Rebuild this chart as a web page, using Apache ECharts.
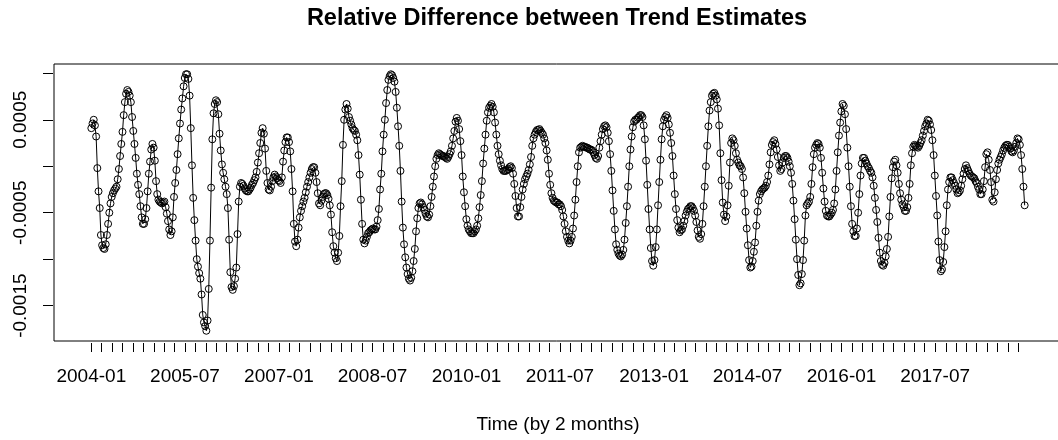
<!DOCTYPE html>
<html><head><meta charset="utf-8">
<script src="https://cdn.jsdelivr.net/npm/echarts@6/dist/echarts.min.js"></script>
<style>html,body{margin:0;padding:0;background:#fff}#c{width:1058px;height:440px}</style>
</head><body><div id="c"></div>
<script>
const chartTitle = 'Relative Difference between Trend Estimates';
const xTitle = 'Time (by 2 months)';
const firstWeek = [2004, 0, 1];      // first weekly observation (year, month index, day)
const valueUnit = 1e-5;               // the weekly arrays below are in units of 1e-5

// weekly relative differences, 52 weeks per block
const wk2004 = [41,46,50,44,32,-2,-27,-45,-74,-85,-88,-89,-84,-74,-62,-50,-40,-33,-29,-26,-24,-22,-14,-3,11,24,37,55,69,78,82,80,76,69,53,38,24,9,-8,-20,-30,-43,-55,-62,-62,-57,-45,-27,-8,5,18,24];
const wk2005 = [20,6,-16,-30,-36,-38,-39,-40,-39,-38,-44,-51,-59,-68,-74,-70,-55,-33,-18,-4,13,30,46,61,73,86,95,99,99,94,76,41,1,-34,-58,-80,-100,-108,-115,-121,-138,-160,-168,-172,-177,-166,-132,-80,-23,29,57,67];
const wk2006 = [71,69,56,35,17,2,-7,-14,-22,-30,-45,-79,-114,-130,-133,-129,-121,-109,-73,-38,-22,-18,-19,-21,-24,-26,-27,-27,-25,-23,-20,-18,-15,-12,-6,4,14,25,36,41,35,19,-5,-18,-25,-26,-22,-16,-12,-9,-11,-13];
const wk2007 = [-15,-16,-18,-12,5,17,26,31,31,26,16,-3,-27,-62,-81,-86,-79,-66,-55,-48,-43,-38,-34,-28,-22,-17,-12,-7,-3,-1,-1,-7,-17,-29,-40,-42,-37,-33,-30,-29,-29,-31,-35,-42,-52,-71,-86,-93,-99,-102,-93,-75];
const wk2008 = [-43,-16,23,50,61,67,62,53,49,45,41,39,38,34,28,12,-9,-36,-62,-79,-83,-80,-76,-72,-71,-69,-68,-67,-68,-68,-65,-58,-46,-25,-8,16,34,50,68,82,93,97,99,98,95,91,80,63,43,22,-5,-38];
const wk2009 = [-66,-84,-98,-109,-116,-121,-123,-120,-113,-102,-89,-70,-56,-45,-40,-39,-41,-44,-47,-51,-54,-55,-52,-43,-33,-22,-11,0,8,12,14,13,12,11,11,10,9,8,10,13,16,22,30,38,48,52,49,40,27,12,-11,-28];
const wk2010 = [-43,-57,-64,-68,-70,-72,-72,-72,-70,-68,-64,-56,-44,-31,-16,3,19,34,49,58,63,65,67,64,58,47,34,22,13,6,1,-3,-5,-5,-5,-4,-3,-1,0,-2,-8,-19,-32,-45,-54,-54,-44,-33,-25,-19,-14,-11];
const wk2011 = [-8,-4,2,10,22,30,34,37,39,39,40,38,36,34,30,25,17,7,-8,-20,-29,-34,-37,-38,-39,-39,-41,-41,-43,-47,-54,-62,-70,-76,-80,-83,-80,-76,-67,-53,-36,-17,0,15,20,21,22,21,21,20,20,19];
const wk2012 = [18,18,17,15,12,9,8,11,20,27,34,40,43,44,42,36,27,13,-5,-26,-48,-68,-84,-90,-94,-96,-97,-95,-90,-79,-61,-43,-22,0,18,32,42,48,50,50,52,53,55,55,53,44,29,6,-20,-46,-68,-88];
const wk2013 = [-102,-107,-101,-87,-68,-42,-17,7,29,43,50,53,55,52,45,36,25,11,-10,-30,-46,-58,-66,-71,-69,-68,-64,-59,-53,-49,-46,-45,-43,-43,-45,-48,-53,-60,-69,-76,-78,-73,-62,-43,-22,0,22,43,60,69,76,78];
const wk2014 = [79,76,72,62,44,14,-15,-39,-52,-59,-54,-42,-21,4,25,30,28,22,14,7,4,1,0,-3,-12,-29,-49,-67,-85,-101,-109,-108,-102,-92,-82,-64,-49,-37,-30,-27,-25,-24,-23,-21,-17,-10,2,15,23,26,28,24];
const wk2015 = [18,10,1,-5,-3,4,9,11,11,9,5,0,-7,-19,-37,-57,-79,-100,-117,-128,-126,-116,-101,-80,-53,-42,-40,-38,-33,-19,-1,13,20,23,25,24,20,9,-7,-24,-38,-48,-53,-54,-54,-52,-50,-47,-40,-25,-5,15];
const wk2016 = [33,47,59,67,65,56,40,20,0,-22,-43,-62,-70,-75,-75,-67,-50,-30,-10,3,9,9,6,3,0,-2,-5,-7,-12,-21,-34,-47,-60,-77,-93,-102,-106,-107,-104,-97,-89,-76,-54,-33,-13,-1,5,7,1,-7,-19,-29];
const wk2017 = [-36,-41,-44,-48,-48,-44,-34,-19,1,14,21,23,22,21,20,22,25,28,33,38,43,46,50,49,45,39,28,12,-10,-32,-53,-81,-101,-113,-111,-103,-87,-70,-42,-25,-17,-12,-12,-15,-18,-21,-25,-29,-28,-26,-21,-14];
const wk2018 = [-8,-3,1,-2,-5,-8,-10,-11,-12,-13,-16,-18,-22,-25,-30,-30,-25,-16,-1,13,15,7,-4,-17,-36,-38,-28,-14,-4,3,7,10,13,17,20,22,23,23,21,19,16,15,17,21,25,30,29,23,12,-3,-22,-42];

// axis ticks / labels
const xTickMonths = { from: [2004, 0], to: [2018, 10], step: 2 };   // every 2 months
const xLabelMonths = ['2004-01','2005-07','2007-01','2008-07','2010-01','2011-07','2013-01','2014-07','2016-01','2017-07'];
const yTickValues = [-0.0015, -0.001, -0.0005, 0, 0.0005, 0.001];
const yLabelValues = [-0.0015, -0.0005, 0.0005];

const DAY = 86400000;
const t0 = Date.UTC(firstWeek[0], firstWeek[1], firstWeek[2]);
const allWeeks = [].concat(wk2004, wk2005, wk2006, wk2007, wk2008, wk2009, wk2010, wk2011, wk2012, wk2013, wk2014, wk2015, wk2016, wk2017, wk2018);
const points = allWeeks.map((v, i) => [i * 7, v * valueUnit]);   // x = days since first week

function monthDay(y, m) { return (Date.UTC(y, m, 1) - t0) / DAY; }
const xTicks = [];
for (let y = xTickMonths.from[0], m = xTickMonths.from[1]; y * 12 + m <= xTickMonths.to[0] * 12 + xTickMonths.to[1]; ) {
  xTicks.push(monthDay(y, m));
  m += xTickMonths.step; if (m > 11) { m -= 12; y += 1; }
}
const xLabels = xLabelMonths.map(s => monthDay(+s.slice(0, 4), +s.slice(5, 7) - 1));
function fmtMonth(v) {
  const d = new Date(t0 + Math.round(v) * DAY);
  const mm = d.getUTCMonth() + 1;
  return d.getUTCFullYear() + '-' + (mm < 10 ? '0' : '') + mm;
}

// R-style 4% axis extension
const xs = points.map(p => p[0]), ys = points.map(p => p[1]);
const xMinD = Math.min(...xs), xMaxD = Math.max(...xs);
const yMinD = Math.min(...ys), yMaxD = Math.max(...ys);
const xPad = (xMaxD - xMinD) * 0.04, yPad = (yMaxD - yMinD) * 0.04;

const FONT = '"Liberation Sans", Arial, Helvetica, sans-serif';
const chart = echarts.init(document.getElementById('c'), null, { renderer: 'canvas' });
chart.setOption({
  animation: false,
  backgroundColor: '#ffffff',
  grid: { left: 54, top: 64, width: 1008, height: 277, show: true, borderColor: '#000', borderWidth: 1,
          containLabel: false, outerBoundsMode: 'none' },
  graphic: [{
    type: 'text', x: 557, y: 19, silent: true,
    style: { text: chartTitle, font: 'bold 23.5px ' + FONT, fill: '#000', textAlign: 'center', textVerticalAlign: 'middle' }
  }],
  xAxis: {
    type: 'value', min: xMinD - xPad, max: xMaxD + xPad, offset: 2, position: 'bottom',
    axisLine: { show: false, onZero: false }, splitLine: { show: false },
    axisTick: { show: true, customValues: xTicks, length: 9, lineStyle: { color: '#000', width: 1 } },
    axisLabel: { customValues: xLabels, formatter: fmtMonth, color: '#000', fontFamily: FONT, fontSize: 19, margin: 24 },
    name: xTitle, nameLocation: 'middle', nameGap: 72,
    nameTextStyle: { color: '#000', fontFamily: FONT, fontSize: 19 }
  },
  yAxis: {
    type: 'value', min: yMinD - yPad, max: yMaxD + yPad, offset: 1, position: 'left',
    axisLine: { show: false, onZero: false }, splitLine: { show: false },
    axisTick: { show: true, customValues: yTickValues, length: 10, lineStyle: { color: '#000', width: 1 } },
    axisLabel: { customValues: yLabelValues, rotate: 90, margin: 23, color: '#000', fontFamily: FONT, fontSize: 19,
                 formatter: v => String(v) }
  },
  series: [{
    type: 'line', data: points, showSymbol: true, showAllSymbol: true,
    symbol: 'circle', symbolSize: 7, silent: true,
    itemStyle: { color: 'rgba(0,0,0,0)', borderColor: '#000', borderWidth: 1 },
    lineStyle: { color: '#000', width: 1 },
    emphasis: { disabled: true }
  }]
});
</script></body></html>
